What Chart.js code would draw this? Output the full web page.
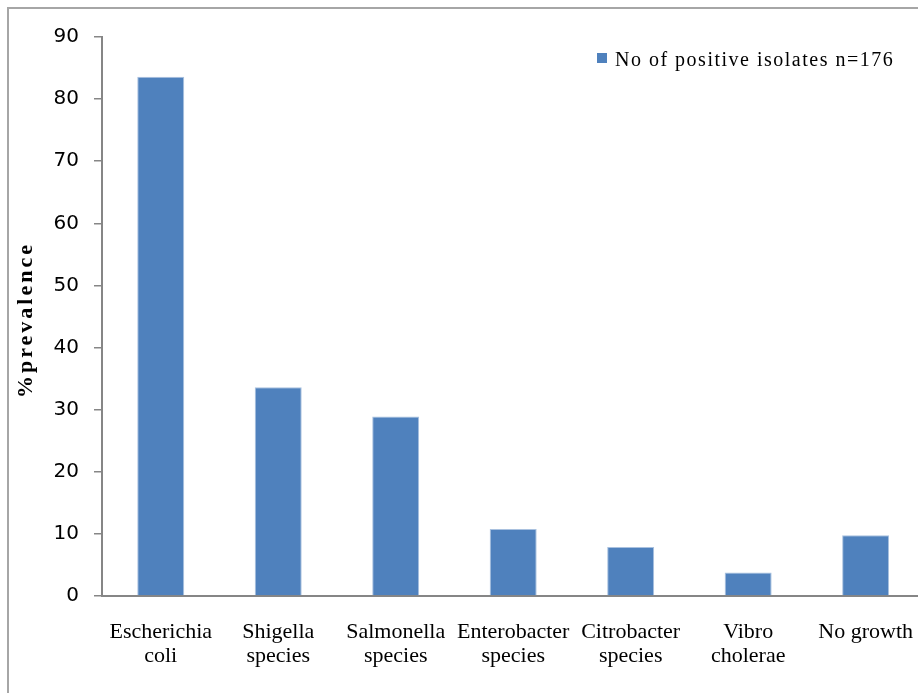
<!DOCTYPE html>
<html>
<head>
<meta charset="utf-8">
<script src="https://cdn.jsdelivr.net/npm/chart.js@4"></script>
<style>
  html, body { margin: 0; padding: 0; background: #fff; overflow: hidden; }
  #grafico { display: block; }
</style>
</head>
<body>
<canvas id="grafico" width="937" height="693"></canvas>
<script>
const CATEGORIAS = [
  ["Escherichia", "coli"], ["Shigella", "species"], ["Salmonella", "species"],
  ["Enterobacter", "species"], ["Citrobacter", "species"], ["Vibro", "cholerae"], "No growth"
];
const VALORES = [83.6, 33.6, 28.9, 10.8, 7.9, 3.8, 9.8];
const TICKS_Y = [0, 10, 20, 30, 40, 50, 60, 70, 80, 90];
const LEGENDA = "No of positive isolates n=176";
const TITULO_Y = "%prevalence";

const AZUL = "#4f81bd";
const CINZA = "#868686";

// moldura, legenda e titulo do eixo desenhados a mao
const extras = {
  id: "extras",
  afterDraw(chart) {
    const ctx = chart.ctx;
    ctx.save();
    ctx.strokeStyle = "#a6a6a6";
    ctx.lineWidth = 2;
    ctx.beginPath();
    ctx.moveTo(8, 720);
    ctx.lineTo(8, 8);
    ctx.lineTo(940, 8);
    ctx.stroke();

    ctx.fillStyle = AZUL;
    ctx.fillRect(597, 53, 10, 10);
    ctx.fillStyle = "#000";
    ctx.font = "20px 'Liberation Serif'";
    ctx.letterSpacing = "1.5px";
    ctx.textBaseline = "alphabetic";
    ctx.textAlign = "left";
    ctx.fillText(chart.data.datasets[0].label, 615, 66);

    ctx.translate(32, 320);
    ctx.rotate(-Math.PI / 2);
    ctx.font = "bold 22px 'Liberation Serif'";
    ctx.letterSpacing = "3px";
    ctx.textAlign = "center";
    ctx.fillText(TITULO_Y, 0, 0);
    ctx.restore();
  }
};

new Chart(document.getElementById("grafico"), {
  type: "bar",
  data: {
    labels: CATEGORIAS,
    datasets: [{
      label: LEGENDA,
      data: VALORES,
      backgroundColor: AZUL,
      borderColor: "#a9c1df",
      borderWidth: 1,
      barPercentage: 0.4,
      categoryPercentage: 1
    }]
  },
  options: {
    responsive: false,
    animation: false,
    devicePixelRatio: 1,
    layout: { padding: { top: 37, right: 0, left: 0, bottom: 0 } },
    plugins: { legend: { display: false }, tooltip: { enabled: false } },
    scales: {
      x: {
        afterFit(s) { s.height = 97; },
        grid: { display: false, drawTicks: false },
        border: { display: true, color: CINZA, width: 2 },
        ticks: {
          color: "#000",
          padding: 24,
          maxRotation: 0,
          autoSkip: false,
          font: { family: "'Liberation Serif'", size: 22, lineHeight: 1.1 }
        }
      },
      y: {
        min: 0,
        max: 90,
        afterFit(s) { s.width = 102; },
        afterBuildTicks(s) { s.ticks = TICKS_Y.map(function(v) { return { value: v }; }); },
        grid: { drawOnChartArea: false, drawTicks: true, tickLength: 8, color: CINZA, lineWidth: 1.5 },
        border: { display: true, color: CINZA, width: 2 },
        ticks: {
          color: "#000",
          padding: 15,
          font: { family: "'DejaVu Sans'", size: 20 }
        }
      }
    }
  },
  plugins: [extras]
});
</script>
</body>
</html>
